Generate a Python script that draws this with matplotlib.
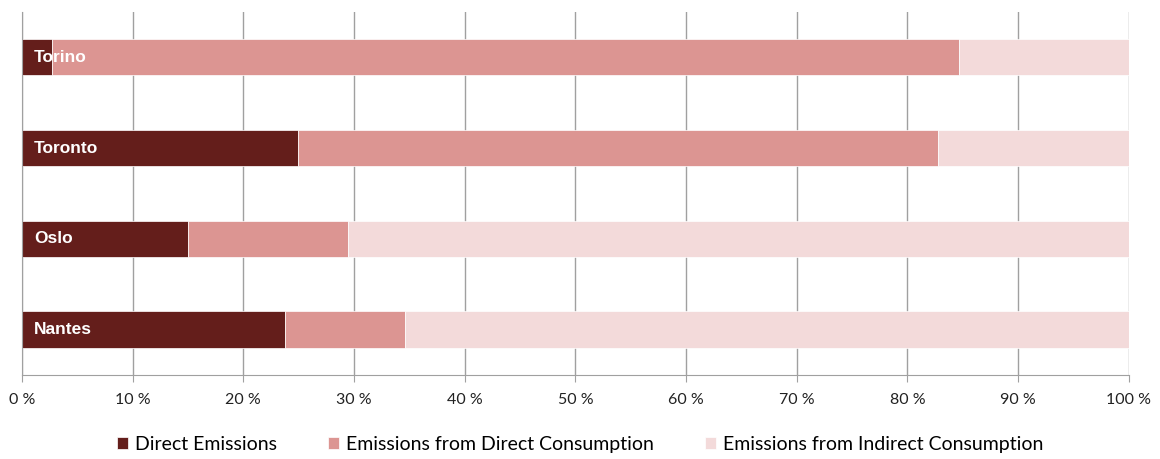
import matplotlib
matplotlib.use('Agg')
import matplotlib.pyplot as plt
import numpy as np

cities = ['Torino', 'Toronto', 'Oslo', 'Nantes']
direct_emissions = [2.7, 24.9, 15.0, 23.8]
direct_consumption = [82.0, 57.9, 14.5, 10.8]
indirect_consumption = [15.3, 17.2, 70.5, 65.4]
series_names = ['Direct Emissions', 'Emissions from Direct Consumption',
                'Emissions from Indirect Consumption']
colors = ['#641e1b', '#dc9592', '#f3dada']

fig = plt.figure(figsize=(11.6, 4.59), dpi=100)
ax = fig.add_axes([0.019, 0.183, 0.954, 0.791])

# top bar first
y = np.arange(len(cities))[::-1]
left = np.zeros(len(cities))
for vals, name, c in zip([direct_emissions, direct_consumption, indirect_consumption],
                         series_names, colors):
    ax.barh(y, vals, left=left, height=0.4, color=c, label=name,
            edgecolor='white', linewidth=0.5)
    left += np.array(vals)

for yi, city in zip(y, cities):
    ax.text(1.1, yi, city, color='white', fontweight='bold', fontsize=12.5,
            va='center', ha='left', family='Liberation Sans')

ax.set_xlim(0, 100)
ax.set_ylim(-0.5, 3.5)
ax.set_xticks(np.arange(0, 101, 10))
ax.set_xticklabels([f'{v} %' for v in range(0, 101, 10)], fontsize=11.5,
                   family='Lato', color='#222222')
ax.set_yticks([])
ax.xaxis.grid(True, color='#a0a0a0', linewidth=1)
ax.set_axisbelow(True)
for s in ['top', 'right']:
    ax.spines[s].set_visible(False)
ax.spines['left'].set_color('#a0a0a0')
ax.spines['bottom'].set_color('#a0a0a0')
ax.tick_params(axis='x', length=5, color='#a0a0a0', pad=8)

fig.legend(loc='center', bbox_to_anchor=(0.5, 0.032), ncol=3, frameon=False,
           prop={'family': 'Lato', 'size': 14}, handlelength=0.6,
           handleheight=0.6, columnspacing=2.6, handletextpad=0.35)

fig.savefig('out.png', dpi=100)
